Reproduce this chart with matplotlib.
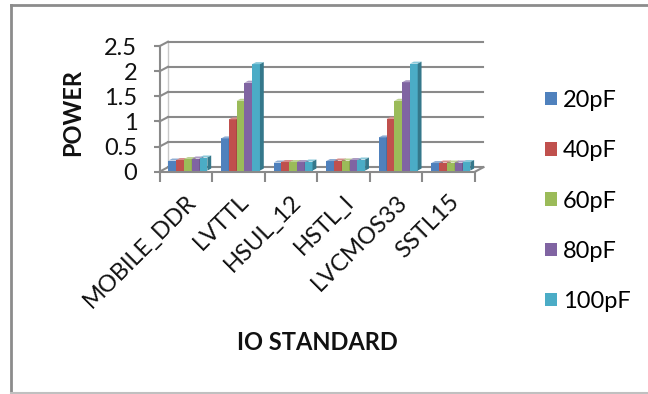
import matplotlib
matplotlib.use("Agg")
import matplotlib.pyplot as plt
import numpy as np
from matplotlib.colors import to_rgb
from matplotlib.lines import Line2D
from matplotlib.patches import Patch, Polygon

standards = ["MOBILE_DDR", "LVTTL", "HSUL_12", "HSTL_I", "LVCMOS33", "SSTL15"]
loads = ["20pF", "40pF", "60pF", "80pF", "100pF"]
power_20pf = [0.20, 0.64, 0.16, 0.19, 0.66, 0.15]
power_40pf = [0.21, 1.02, 0.17, 0.20, 1.03, 0.16]
power_60pf = [0.23, 1.39, 0.17, 0.20, 1.39, 0.16]
power_80pf = [0.24, 1.75, 0.17, 0.21, 1.76, 0.16]
power_100pf = [0.26, 2.12, 0.18, 0.22, 2.13, 0.17]
series = [power_20pf, power_40pf, power_60pf, power_80pf, power_100pf]
y_ticks = [0, 0.5, 1, 1.5, 2, 2.5]
y_tick_labels = ["0", "0.5", "1", "1.5", "2", "2.5"]

colors = ["#4F81BD", "#C0504D", "#9BBB59", "#8064A2", "#4BACC6"]
grid_color = "#8a8a8a"
FONT = "Lato"

W, H = 648, 394
fig = plt.figure(figsize=(W / 100, H / 100), dpi=100)

# front plane of the 3D box, in pixels
x0, x1 = 159.5, 475.0
y0, y1 = 171.7, 46.2
ax = fig.add_axes([x0 / W, 1 - y0 / H, (x1 - x0) / W, (y0 - y1) / H])
n_cat = len(standards)
ax.set_xlim(0, n_cat)
ax.set_ylim(0, 2.5)

# depth of the box expressed in data units
px_x = (x1 - x0) / n_cat
px_y = (y0 - y1) / 2.5
DX = 8.5 / px_x
DY = 4.5 / px_y


def mix(c, t, f):
    r = np.array(to_rgb(c))
    return tuple(r + (np.array(to_rgb(t)) - r) * f)


# back wall and left wall gridlines
for v in y_ticks:
    ax.plot([DX, n_cat + DX], [v + DY, v + DY], color=grid_color, lw=1.5,
            clip_on=False, zorder=1)
    ax.plot([0, DX], [v, v + DY], color=grid_color, lw=1.5, clip_on=False, zorder=1)
ax.plot([n_cat, n_cat + DX], [0, DY], color=grid_color, lw=1.5, clip_on=False, zorder=1)
ax.plot([DX, DX], [DY, 2.5 + DY], color="#c8c8c8", lw=1, clip_on=False, zorder=0.5)

# clustered 3D columns
bar_w = 0.148
gap = 0.13
d0, d1 = 0.25, 0.7
sx, sy = d0 * DX, d0 * DY
ddx, ddy = (d1 - d0) * DX, (d1 - d0) * DY
z = 3
for i in range(n_cat):
    for k, vals in enumerate(series):
        v = vals[i]
        xl = i + gap + k * bar_w + sx
        xr = xl + bar_w
        ax.bar(xl, v, width=bar_w, bottom=sy, align="edge", color=colors[k],
               edgecolor="none", clip_on=False, zorder=z)
        top = Polygon([(xl, v + sy), (xr, v + sy), (xr + ddx, v + sy + ddy),
                       (xl + ddx, v + sy + ddy)], closed=True,
                      facecolor=mix(colors[k], "white", 0.35), edgecolor="none",
                      clip_on=False, zorder=z)
        side = Polygon([(xr, sy), (xr, v + sy), (xr + ddx, v + sy + ddy),
                        (xr + ddx, sy + ddy)], closed=True,
                       facecolor=mix(colors[k], "black", 0.3), edgecolor="none",
                       clip_on=False, zorder=z)
        ax.add_patch(top)
        ax.add_patch(side)
        z += 0.01

# front axes
for side_name in ["top", "right"]:
    ax.spines[side_name].set_visible(False)
for side_name in ["left", "bottom"]:
    ax.spines[side_name].set_color(grid_color)
    ax.spines[side_name].set_linewidth(1.5)
ax.set_facecolor("none")

ax.set_yticks(y_ticks)
ax.set_yticklabels(y_tick_labels, fontsize=17, family=FONT, color="#111111")
ax.tick_params(axis="y", direction="out", length=4, width=1.5, color=grid_color, pad=12)

ax.set_xticks(np.arange(n_cat + 1))
ax.set_xticklabels([])
ax.tick_params(axis="x", which="major", direction="out", length=7, width=1.5,
               color=grid_color)
ax.set_xticks(np.arange(n_cat) + 0.5, minor=True)
ax.set_xticklabels(standards, minor=True, rotation=45, ha="right",
                   rotation_mode="anchor", fontsize=17, family=FONT, color="#111111")
ax.tick_params(axis="x", which="minor", length=0, pad=14)

fig.text(73 / W, 1 - 113 / H, "POWER", rotation=90, ha="center", va="center",
         fontsize=17, fontweight="bold", family=FONT, color="#111111")
fig.text(317 / W, 1 - 342 / H, "IO STANDARD", ha="center", va="center",
         fontsize=17, fontweight="bold", family=FONT, color="#111111")

handles = [Patch(facecolor=c, edgecolor="none") for c in colors]
fig.legend(handles, loads, loc="upper left", bbox_to_anchor=(545 / W, 1 - 90 / H),
           frameon=False, prop={"family": FONT, "size": 17}, handlelength=0.5,
           handleheight=0.5, handletextpad=0.25, labelspacing=1.24,
           borderpad=0, borderaxespad=0)

# chart frame
fig.add_artist(Line2D([11 / W, 11 / W], [1 - 5 / H, 1 - 393 / H], color="#8c8c8c", lw=2))
fig.add_artist(Line2D([11 / W, 1], [1 - 5 / H, 1 - 5 / H], color="#8c8c8c", lw=2))
fig.add_artist(Line2D([11 / W, 1], [1 - 393 / H, 1 - 393 / H], color="#c0c0c0", lw=1.5))

fig.savefig("out.png", dpi=100)
